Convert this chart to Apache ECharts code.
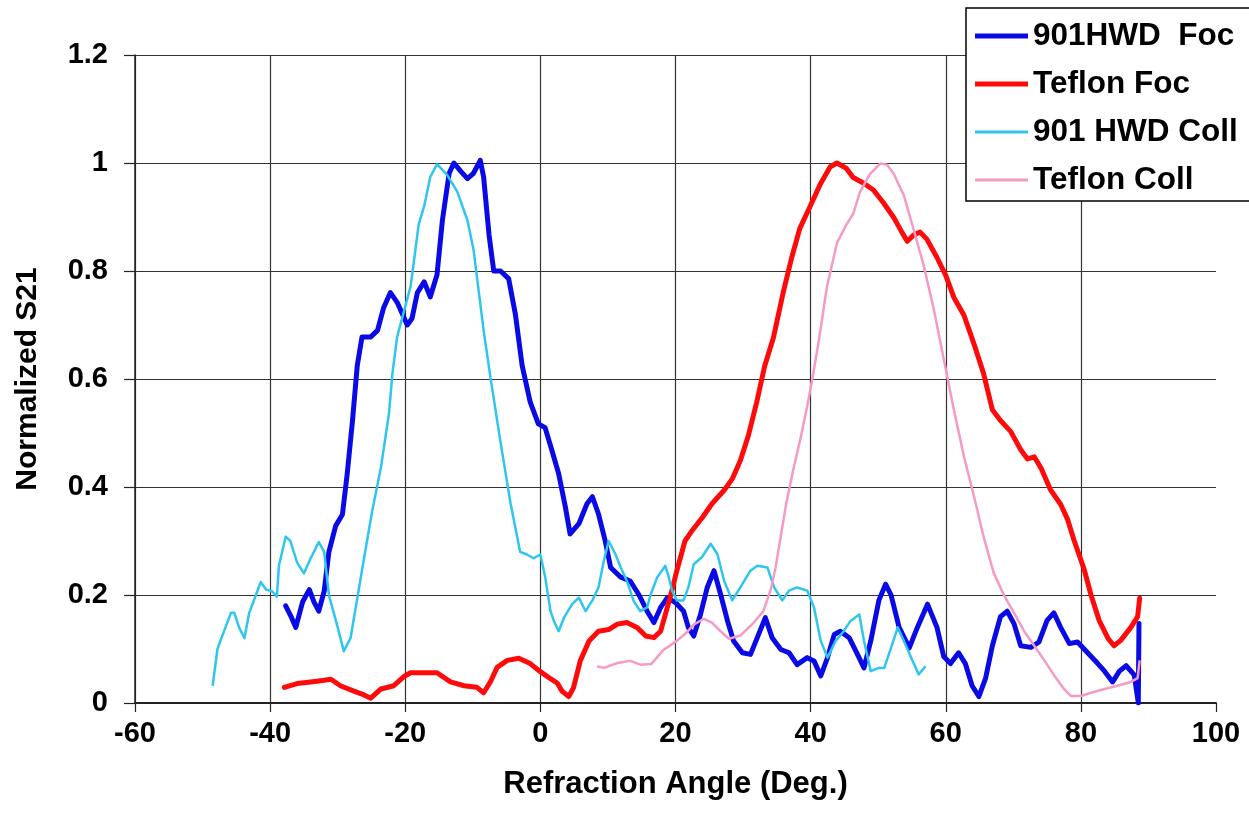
<!DOCTYPE html>
<html>
<head>
<meta charset="utf-8">
<title>Normalized S21 vs Refraction Angle</title>
<script src="https://cdn.jsdelivr.net/npm/echarts@6/dist/echarts.min.js"></script>
<style>
    html, body { margin: 0; padding: 0; background: #fff; }
    #main-chart { width: 1249px; height: 828px; }
</style>
</head>
<body>
<div id="main-chart"></div>
<script>
// series names (legend order)
const seriesNames = ['901HWD  Foc', 'Teflon Foc', '901 HWD Coll', 'Teflon Coll'];

// 901HWD Foc
const hwdFocX = [-37.7, -36.9, -36.2, -35.2, -34.2, -33.5, -32.8, -32.0, -31.3, -30.3, -29.3, -28.6, -27.8, -27.1, -26.4, -25.1, -24.1, -23.2, -22.2, -21.2, -19.7, -19.0, -18.2, -17.2, -16.3, -15.3, -14.5, -13.5, -12.8, -11.8, -10.8, -9.9, -8.9, -8.4, -7.6, -6.9, -5.9, -4.7, -3.7, -2.7, -1.5, -0.3, 0.7, 1.7, 2.7, 3.7, 4.4, 5.7, 6.9, 7.7, 8.6, 9.6, 10.4, 11.9, 13.3, 14.6, 15.8, 16.8, 17.8, 18.8, 20.0, 21.2, 21.9, 22.7, 23.7, 24.7, 25.7, 26.7, 27.7, 28.6, 29.9, 31.1, 32.3, 33.3, 34.3, 35.6, 36.8, 38.0, 39.5, 40.5, 41.5, 42.5, 43.5, 44.4, 45.7, 46.7, 47.9, 48.9, 50.1, 51.1, 51.9, 53.1, 54.6, 55.8, 57.3, 58.7, 59.7, 60.7, 61.9, 62.9, 63.9, 64.9, 65.9, 66.9, 68.1, 69.1, 70.1, 71.1, 72.6, 73.8, 75.0, 76.0, 77.0, 78.3, 79.5, 81.0, 82.5, 83.5, 84.7, 85.7, 86.7, 87.9, 88.5, 88.6];
const hwdFocY = [0.18, 0.16, 0.14, 0.187, 0.21, 0.187, 0.17, 0.207, 0.28, 0.328, 0.349, 0.423, 0.524, 0.625, 0.678, 0.678, 0.69, 0.732, 0.76, 0.742, 0.70, 0.712, 0.76, 0.78, 0.752, 0.793, 0.894, 0.981, 1.0, 0.985, 0.971, 0.981, 1.005, 0.974, 0.867, 0.80, 0.80, 0.786, 0.72, 0.625, 0.557, 0.517, 0.51, 0.468, 0.425, 0.363, 0.313, 0.332, 0.369, 0.382, 0.35, 0.30, 0.251, 0.233, 0.226, 0.20, 0.17, 0.149, 0.177, 0.195, 0.186, 0.17, 0.14, 0.124, 0.164, 0.214, 0.245, 0.20, 0.152, 0.115, 0.093, 0.09, 0.127, 0.158, 0.121, 0.099, 0.093, 0.071, 0.084, 0.078, 0.05, 0.084, 0.127, 0.133, 0.121, 0.096, 0.065, 0.115, 0.19, 0.22, 0.20, 0.14, 0.102, 0.14, 0.183, 0.14, 0.086, 0.073, 0.093, 0.073, 0.032, 0.012, 0.046, 0.106, 0.16, 0.17, 0.147, 0.106, 0.103, 0.113, 0.153, 0.167, 0.14, 0.11, 0.113, 0.093, 0.073, 0.059, 0.039, 0.059, 0.069, 0.052, 0.0, 0.147];

// Teflon Foc
const teflonFocX = [-37.9, -36.0, -34.0, -32.0, -31.0, -29.6, -27.6, -26.1, -25.1, -23.6, -21.7, -20.2, -19.2, -17.2, -15.3, -13.3, -11.3, -9.4, -8.4, -7.4, -6.4, -4.9, -3.2, -1.5, 0.0, 1.5, 2.5, 3.2, 4.2, 4.9, 5.9, 7.2, 8.6, 10.1, 11.4, 12.8, 14.3, 15.6, 16.8, 17.8, 18.5, 19.3, 20.2, 21.4, 22.5, 24.0, 25.4, 27.2, 28.4, 29.6, 30.8, 32.0, 33.2, 34.5, 35.9, 37.2, 38.4, 39.9, 41.4, 42.9, 43.9, 45.3, 46.3, 47.8, 49.3, 50.8, 52.3, 53.5, 54.3, 55.2, 56.2, 57.2, 58.7, 60.0, 61.2, 62.7, 64.2, 65.6, 66.9, 68.1, 69.6, 71.1, 72.1, 73.1, 74.1, 75.5, 77.0, 78.0, 79.0, 80.5, 81.5, 82.7, 84.0, 84.9, 85.9, 87.4, 88.4, 88.7];
const teflonFocY = [0.029, 0.036, 0.039, 0.042, 0.044, 0.032, 0.022, 0.015, 0.009, 0.026, 0.032, 0.049, 0.056, 0.056, 0.056, 0.039, 0.032, 0.029, 0.019, 0.039, 0.066, 0.079, 0.083, 0.073, 0.058, 0.045, 0.037, 0.022, 0.012, 0.028, 0.078, 0.115, 0.133, 0.136, 0.146, 0.149, 0.14, 0.124, 0.121, 0.133, 0.164, 0.20, 0.245, 0.30, 0.32, 0.344, 0.369, 0.394, 0.415, 0.449, 0.496, 0.556, 0.624, 0.677, 0.758, 0.825, 0.879, 0.919, 0.96, 0.993, 1.0, 0.99, 0.973, 0.963, 0.95, 0.926, 0.899, 0.872, 0.855, 0.866, 0.872, 0.859, 0.825, 0.792, 0.751, 0.718, 0.664, 0.61, 0.543, 0.523, 0.503, 0.469, 0.452, 0.456, 0.435, 0.395, 0.368, 0.341, 0.301, 0.247, 0.20, 0.153, 0.12, 0.106, 0.116, 0.14, 0.16, 0.194];

// 901 HWD Coll
const hwdCollX = [-48.5, -47.8, -47.0, -45.8, -45.3, -44.6, -43.8, -43.1, -42.1, -41.4, -40.6, -39.7, -39.0, -38.7, -37.7, -37.0, -36.0, -35.0, -34.0, -32.8, -32.0, -31.3, -30.0, -29.1, -28.1, -27.1, -26.1, -24.9, -23.6, -22.4, -21.9, -21.2, -20.2, -19.2, -18.0, -17.2, -16.3, -15.3, -13.8, -12.3, -10.8, -9.9, -8.4, -7.4, -5.9, -4.4, -3.0, -2.0, -1.0, 0.0, 0.7, 1.5, 2.0, 2.7, 3.5, 4.7, 5.7, 6.7, 7.7, 8.6, 9.4, 10.1, 11.1, 11.9, 12.8, 13.8, 14.8, 15.8, 16.3, 17.3, 18.5, 19.0, 19.5, 20.2, 21.2, 21.9, 22.7, 23.9, 25.2, 26.2, 27.2, 28.4, 29.6, 31.1, 32.1, 33.6, 34.6, 35.8, 36.8, 38.0, 39.5, 40.5, 41.5, 42.5, 43.7, 44.9, 45.9, 47.2, 47.9, 48.9, 50.1, 50.9, 51.9, 52.9, 53.8, 55.1, 56.0, 57.0];
const hwdCollY = [0.032, 0.10, 0.127, 0.167, 0.167, 0.14, 0.12, 0.167, 0.20, 0.224, 0.21, 0.207, 0.197, 0.254, 0.308, 0.30, 0.26, 0.24, 0.268, 0.298, 0.28, 0.20, 0.14, 0.096, 0.12, 0.194, 0.268, 0.355, 0.436, 0.537, 0.61, 0.678, 0.725, 0.772, 0.887, 0.92, 0.974, 0.998, 0.978, 0.947, 0.894, 0.84, 0.69, 0.604, 0.483, 0.369, 0.28, 0.275, 0.268, 0.275, 0.234, 0.17, 0.152, 0.133, 0.158, 0.183, 0.195, 0.17, 0.19, 0.214, 0.264, 0.30, 0.276, 0.251, 0.226, 0.189, 0.17, 0.177, 0.20, 0.233, 0.254, 0.233, 0.208, 0.19, 0.19, 0.214, 0.257, 0.27, 0.295, 0.276, 0.226, 0.19, 0.214, 0.245, 0.254, 0.251, 0.214, 0.19, 0.208, 0.214, 0.208, 0.177, 0.115, 0.084, 0.115, 0.133, 0.152, 0.164, 0.115, 0.059, 0.065, 0.065, 0.102, 0.14, 0.115, 0.078, 0.053, 0.068];

// Teflon Coll
const teflonCollX = [8.4, 9.4, 11.4, 13.3, 14.8, 16.4, 18.2, 20.2, 21.6, 22.7, 24.2, 25.4, 26.5, 27.9, 29.6, 31.3, 33.0, 34.1, 34.8, 35.6, 36.4, 37.4, 38.5, 39.5, 40.4, 41.2, 42.4, 43.9, 45.3, 46.3, 47.3, 48.8, 50.3, 51.3, 52.3, 53.8, 55.2, 56.7, 58.2, 59.7, 61.2, 62.7, 64.2, 65.6, 67.1, 68.6, 70.1, 71.6, 73.1, 74.6, 76.0, 77.5, 78.5, 80.0, 81.5, 83.5, 85.4, 87.4, 88.4, 88.7];
const teflonCollY = [0.068, 0.065, 0.074, 0.078, 0.071, 0.072, 0.098, 0.115, 0.13, 0.145, 0.156, 0.149, 0.135, 0.119, 0.125, 0.145, 0.17, 0.21, 0.25, 0.31, 0.37, 0.43, 0.49, 0.55, 0.61, 0.67, 0.77, 0.852, 0.886, 0.906, 0.946, 0.98, 0.999, 0.997, 0.98, 0.94, 0.879, 0.812, 0.731, 0.637, 0.543, 0.456, 0.382, 0.308, 0.241, 0.20, 0.167, 0.133, 0.106, 0.079, 0.052, 0.026, 0.013, 0.013, 0.019, 0.026, 0.032, 0.039, 0.046, 0.079];

function zip(xs, ys) {
    return xs.map((x, i) => [x, ys[i]]);
}

const fontFamily = '"Liberation Sans", Arial, sans-serif';
const thickIcon = 'path://M0,0H100V9H0Z';
const thinIcon = 'path://M0,0H100V6H0Z';

const chartDom = document.getElementById('main-chart');
const myChart = echarts.init(chartDom, null, { renderer: 'canvas' });

const option = {
    backgroundColor: '#ffffff',
    animation: false,
    textStyle: { fontFamily: fontFamily },
    grid: {
        left: 135,
        right: 33,
        top: 55,
        bottom: 125,
        containLabel: false,
        outerBoundsMode: 'none'
    },
    legend: {
        orient: 'vertical',
        left: 966,
        top: 8,
        padding: [12, 40, 5, 9],
        itemWidth: 53,
        itemHeight: 30,
        itemGap: 16,
        backgroundColor: '#ffffff',
        borderColor: '#000000',
        borderWidth: 1.5,
        textStyle: { fontSize: 31.5, fontWeight: 'bold', color: '#000', fontFamily: fontFamily },
        data: [
            { name: seriesNames[0], icon: thickIcon },
            { name: seriesNames[1], icon: thickIcon },
            { name: seriesNames[2], icon: thinIcon },
            { name: seriesNames[3], icon: thinIcon }
        ]
    },
    xAxis: {
        type: 'value',
        min: -60,
        max: 100,
        interval: 20,
        name: 'Refraction Angle (Deg.)',
        nameLocation: 'middle',
        nameGap: 66,
        nameTextStyle: { fontSize: 31, fontWeight: 'bold', color: '#000', fontFamily: fontFamily },
        axisLine: { onZero: false, lineStyle: { color: '#222', width: 2 } },
        axisTick: { show: true, inside: false, length: 9, lineStyle: { color: '#222', width: 1.2 } },
        axisLabel: { margin: 16, fontSize: 29, fontWeight: 'bold', color: '#000', fontFamily: fontFamily },
        splitLine: { show: true, showMaxLine: false, lineStyle: { color: '#333', width: 1.2 } }
    },
    yAxis: {
        type: 'value',
        min: 0,
        max: 1.2,
        interval: 0.2,
        name: 'Normalized S21',
        nameLocation: 'middle',
        nameGap: 92,
        nameTextStyle: { fontSize: 30, fontWeight: 'bold', color: '#000', fontFamily: fontFamily },
        axisLine: { show: true, onZero: false, lineStyle: { color: '#222', width: 1.5 } },
        axisTick: { show: true, inside: false, length: 11, lineStyle: { color: '#222', width: 1.2 } },
        axisLabel: { margin: 27, fontSize: 29, fontWeight: 'bold', color: '#000', fontFamily: fontFamily },
        splitLine: { show: true, lineStyle: { color: '#333', width: 1.2 } }
    },
    series: [
        {
            name: seriesNames[0],
            type: 'line',
            data: zip(hwdFocX, hwdFocY),
            symbol: 'none',
            color: '#0a0ae6',
            lineStyle: { width: 5, color: '#0a0ae6', join: 'round', cap: 'round' }
        },
        {
            name: seriesNames[1],
            type: 'line',
            data: zip(teflonFocX, teflonFocY),
            symbol: 'none',
            color: '#ff0a0a',
            lineStyle: { width: 5, color: '#ff0a0a', join: 'round', cap: 'round' }
        },
        {
            name: seriesNames[2],
            type: 'line',
            data: zip(hwdCollX, hwdCollY),
            symbol: 'none',
            color: '#2ec6ef',
            lineStyle: { width: 2.5, color: '#2ec6ef', join: 'round' }
        },
        {
            name: seriesNames[3],
            type: 'line',
            data: zip(teflonCollX, teflonCollY),
            symbol: 'none',
            color: '#f59ac6',
            lineStyle: { width: 2.5, color: '#f59ac6', join: 'round' }
        }
    ]
};

myChart.setOption(option);
</script>
</body>
</html>
